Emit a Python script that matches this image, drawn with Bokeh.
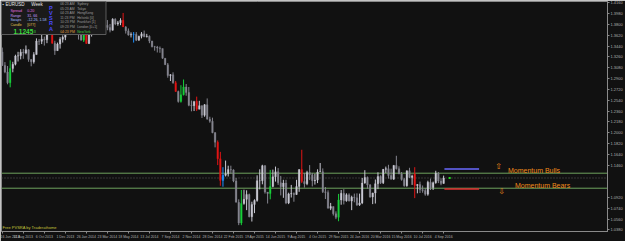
from bokeh.plotting import figure
from bokeh.models import (Range1d, FixedTicker, LinearAxis, Label, Span,
                          NumeralTickFormatter, ColumnDataSource)
from bokeh.core.properties import value
from bokeh.embed import file_html
from bokeh.resources import INLINE

# ---------------- data (EURUSD weekly) ----------------
weeks = list(range(169))
opens = [1.3345, 1.3120, 1.3010, 1.2830, 1.3070, 1.3140, 1.3275, 1.3280, 1.3340, 1.3325,
         1.3380, 1.3220, 1.3180, 1.3300, 1.3525, 1.3520, 1.3555, 1.3545, 1.3685, 1.3800,
         1.3490, 1.3365, 1.3475, 1.3555, 1.3590, 1.3705, 1.3740, 1.3675, 1.3690, 1.3670,
         1.3665, 1.3540, 1.3680, 1.3485, 1.3630, 1.3690, 1.3740, 1.3800, 1.3870, 1.3910,
         1.3790, 1.3750, 1.3705, 1.3890, 1.3810, 1.3830, 1.3870, 1.3760, 1.3695, 1.3625,
         1.3635, 1.3640, 1.3540, 1.3605, 1.3645, 1.3595, 1.3605, 1.3525, 1.3430, 1.3425,
         1.3410, 1.3400, 1.3240, 1.3130, 1.2950, 1.2965, 1.2830, 1.2685, 1.2520, 1.2630,
         1.2760, 1.2670, 1.2455, 1.2450, 1.2525, 1.2390, 1.2450, 1.2290, 1.2465, 1.2225,
         1.2190, 1.2000, 1.1840, 1.1565, 1.1205, 1.1290, 1.1315, 1.1385, 1.1380, 1.1195,
         1.0840, 1.0495, 1.0820, 1.0890, 1.0970, 1.0600, 1.0805, 1.0870, 1.1200, 1.1200,
         1.1450, 1.1010, 1.0985, 1.1105, 1.1265, 1.1350, 1.1165, 1.1100, 1.1160, 1.0830,
         1.0980, 1.0985, 1.0970, 1.1105, 1.1385, 1.1185, 1.1150, 1.1335, 1.1300, 1.1200,
         1.1210, 1.1345, 1.1350, 1.1015, 1.1005, 1.0740, 1.0770, 1.0650, 1.0590, 1.0880,
         1.0990, 1.0865, 1.0965, 1.0860, 1.0925, 1.0915, 1.0795, 1.0830, 1.1160, 1.1255,
         1.1130, 1.0930, 1.0995, 1.1150, 1.1270, 1.1165, 1.1390, 1.1400, 1.1285, 1.1225,
         1.1455, 1.1400, 1.1310, 1.1220, 1.1115, 1.1365, 1.1255, 1.1310, 1.1120, 1.1135,
         1.1050, 1.1035, 1.0975, 1.1175, 1.1085, 1.1165, 1.1325, 1.1195, 1.1155]
highs = [1.3417, 1.3175, 1.3110, 1.3205, 1.3180, 1.3298, 1.3346, 1.3390, 1.3395, 1.3452,
         1.3390, 1.3225, 1.3340, 1.3570, 1.3560, 1.3647, 1.3600, 1.3700, 1.3832, 1.3800,
         1.3530, 1.3500, 1.3590, 1.3620, 1.3700, 1.3810, 1.3810, 1.3750, 1.3893, 1.3685,
         1.3700, 1.3740, 1.3740, 1.3625, 1.3715, 1.3770, 1.3825, 1.3915, 1.3967, 1.3965,
         1.3875, 1.3810, 1.3905, 1.3905, 1.3860, 1.3905, 1.3993, 1.3775, 1.3735, 1.3670,
         1.3675, 1.3675, 1.3615, 1.3675, 1.3700, 1.3645, 1.3620, 1.3530, 1.3445, 1.3445,
         1.3435, 1.3400, 1.3240, 1.3160, 1.2975, 1.3005, 1.2860, 1.2700, 1.2790, 1.2885,
         1.2810, 1.2760, 1.2535, 1.2510, 1.2600, 1.2530, 1.2455, 1.2475, 1.2570, 1.2265,
         1.2250, 1.2010, 1.1870, 1.1680, 1.1425, 1.1535, 1.1450, 1.1450, 1.1390, 1.1245,
         1.0890, 1.1045, 1.1050, 1.1040, 1.0985, 1.0850, 1.0890, 1.1290, 1.1390, 1.1465,
         1.1460, 1.1010, 1.1380, 1.1385, 1.1435, 1.1410, 1.1280, 1.1215, 1.1215, 1.1000,
         1.1130, 1.1005, 1.1215, 1.1390, 1.1715, 1.1330, 1.1365, 1.1460, 1.1330, 1.1315,
         1.1390, 1.1495, 1.1405, 1.1095, 1.1040, 1.0830, 1.0770, 1.0690, 1.0980, 1.1045,
         1.1060, 1.0990, 1.0990, 1.0950, 1.0985, 1.0990, 1.0985, 1.1245, 1.1375, 1.1270,
         1.1145, 1.1000, 1.1220, 1.1340, 1.1290, 1.1395, 1.1435, 1.1465, 1.1400, 1.1460,
         1.1615, 1.1440, 1.1345, 1.1245, 1.1370, 1.1415, 1.1300, 1.1425, 1.1145, 1.1185,
         1.1120, 1.1075, 1.1200, 1.1235, 1.1185, 1.1365, 1.1345, 1.1240, 1.1285]
lows = [1.3110, 1.2990, 1.2805, 1.2755, 1.3005, 1.3120, 1.3185, 1.3220, 1.3230, 1.3305,
        1.3180, 1.3105, 1.3150, 1.3300, 1.3460, 1.3475, 1.3450, 1.3490, 1.3650, 1.3480,
        1.3295, 1.3365, 1.3400, 1.3500, 1.3540, 1.3700, 1.3625, 1.3650, 1.3660, 1.3550,
        1.3535, 1.3510, 1.3480, 1.3475, 1.3600, 1.3680, 1.3640, 1.3735, 1.3860, 1.3750,
        1.3705, 1.3670, 1.3700, 1.3790, 1.3780, 1.3790, 1.3760, 1.3650, 1.3615, 1.3585,
        1.3500, 1.3525, 1.3530, 1.3570, 1.3590, 1.3585, 1.3490, 1.3420, 1.3365, 1.3335,
        1.3330, 1.3230, 1.3130, 1.2915, 1.2860, 1.2815, 1.2680, 1.2500, 1.2500, 1.2620,
        1.2615, 1.2440, 1.2355, 1.2360, 1.2360, 1.2390, 1.2245, 1.2265, 1.2220, 1.2165,
        1.1990, 1.1755, 1.1460, 1.1115, 1.1100, 1.1270, 1.1270, 1.1315, 1.1175, 1.0840,
        1.0460, 1.0460, 1.0800, 1.0710, 1.0590, 1.0520, 1.0660, 1.0850, 1.1055, 1.1140,
        1.0985, 1.0820, 1.0890, 1.1090, 1.1185, 1.1130, 1.0955, 1.0915, 1.0810, 1.0810,
        1.0920, 1.0850, 1.0965, 1.1015, 1.1160, 1.1085, 1.1125, 1.1210, 1.1105, 1.1135,
        1.1160, 1.1345, 1.0995, 1.0895, 1.0740, 1.0710, 1.0620, 1.0560, 1.0525, 1.0800,
        1.0805, 1.0850, 1.0855, 1.0710, 1.0840, 1.0780, 1.0780, 1.0810, 1.1150, 1.1065,
        1.0915, 1.0810, 1.0820, 1.1060, 1.1145, 1.1145, 1.1330, 1.1235, 1.1220, 1.1215,
        1.1385, 1.1310, 1.1200, 1.1100, 1.1100, 1.1245, 1.1130, 1.0910, 1.0990, 1.0995,
        1.1000, 1.0950, 1.0950, 1.1045, 1.1045, 1.1150, 1.1160, 1.1125, 1.1150]
closes = [1.3120, 1.3010, 1.2830, 1.3070, 1.3140, 1.3275, 1.3280, 1.3340, 1.3325, 1.3380,
          1.3220, 1.3180, 1.3300, 1.3525, 1.3520, 1.3555, 1.3545, 1.3685, 1.3800, 1.3490,
          1.3365, 1.3475, 1.3555, 1.3590, 1.3705, 1.3740, 1.3675, 1.3690, 1.3670, 1.3665,
          1.3540, 1.3680, 1.3485, 1.3630, 1.3690, 1.3740, 1.3800, 1.3870, 1.3910, 1.3790,
          1.3750, 1.3705, 1.3890, 1.3810, 1.3830, 1.3870, 1.3760, 1.3695, 1.3625, 1.3635,
          1.3640, 1.3540, 1.3605, 1.3645, 1.3595, 1.3605, 1.3525, 1.3430, 1.3425, 1.3410,
          1.3400, 1.3240, 1.3130, 1.2950, 1.2965, 1.2830, 1.2685, 1.2520, 1.2630, 1.2760,
          1.2670, 1.2455, 1.2450, 1.2525, 1.2390, 1.2450, 1.2290, 1.2465, 1.2225, 1.2190,
          1.2000, 1.1840, 1.1565, 1.1205, 1.1290, 1.1315, 1.1385, 1.1380, 1.1195, 1.0840,
          1.0495, 1.0820, 1.0890, 1.0970, 1.0600, 1.0805, 1.0870, 1.1200, 1.1200, 1.1450,
          1.1010, 1.0985, 1.1105, 1.1265, 1.1350, 1.1165, 1.1100, 1.1160, 1.0830, 1.0980,
          1.0985, 1.0970, 1.1105, 1.1385, 1.1185, 1.1150, 1.1335, 1.1300, 1.1200, 1.1210,
          1.1345, 1.1350, 1.1015, 1.1005, 1.0740, 1.0770, 1.0650, 1.0590, 1.0880, 1.0990,
          1.0865, 1.0965, 1.0860, 1.0925, 1.0915, 1.0795, 1.0830, 1.1160, 1.1255, 1.1130,
          1.0930, 1.0995, 1.1150, 1.1270, 1.1165, 1.1390, 1.1400, 1.1285, 1.1225, 1.1455,
          1.1400, 1.1310, 1.1220, 1.1115, 1.1365, 1.1255, 1.1280, 1.1120, 1.1135, 1.1050,
          1.1035, 1.0975, 1.1175, 1.1085, 1.1165, 1.1325, 1.1195, 1.1155, 1.1245]

green_climax = [3, 31, 68, 69, 91, 102, 128]
red_climax = [19, 32, 46, 66, 74, 82, 83, 114, 157]
blue_climax = [50, 84]

date_ticks = [0, 8, 16, 24, 32, 40, 48, 56, 64, 72, 80, 88, 96, 104, 112, 120,
              128, 136, 144, 152, 160, 168]
date_labels = ["16 Jun 2013", "11 Aug 2013", "6 Oct 2013", "1 Dec 2013", "26 Jan 2014",
               "23 Mar 2014", "18 May 2014", "13 Jul 2014", "7 Sep 2014", "2 Nov 2014",
               "28 Dec 2014", "22 Feb 2015", "19 Apr 2015", "14 Jun 2015", "9 Aug 2015",
               "4 Oct 2015", "29 Nov 2015", "24 Jan 2016", "20 Mar 2016", "15 May 2016",
               "10 Jul 2016", "4 Sep 2016"]
price_ticks = [1.0380, 1.0560, 1.0740, 1.0920, 1.1460, 1.1640, 1.1820, 1.2000, 1.2180,
               1.2360, 1.2540, 1.2720, 1.2900, 1.3080, 1.3260, 1.3440, 1.3620, 1.3800,
               1.3980, 1.4160]

bid_price = 1.1245
bulls_level = 1.1325
bears_level = 1.1075
mom_bull_level = 1.1396
mom_bear_level = 1.1063
mom_start, mom_end = 168.3, 181.5

# ---------------- layout mapping helpers ----------------
PX0, PXW = 1.8, 2.64          # pixel column of week 0, pixels per week
PY_REF, PPX = 177.5, 0.0016651  # pixel row of bid price, price per pixel


def wx(px):
    return (px - PX0) / PXW


def pyv(py):
    return bid_price + (PY_REF - py) * PPX


BG = "#111111"
BULL, BEAR = "#c9c9d3", "#85858f"
GREEN, RED, BLUE = "#18d03a", "#e01515", "#1e90ff"
AXC, LBC = "#8a8a8a", "#b0b0b0"
FONT = "Liberation Sans"

p = figure(width=625, height=241, output_backend="svg", toolbar_location=None,
           x_range=Range1d(wx(1), wx(610)), y_range=Range1d(pyv(231), pyv(1)),
           x_axis_location=None, y_axis_location=None,
           min_border_left=1, min_border_top=1, min_border_right=0, min_border_bottom=0,
           background_fill_color=BG, border_fill_color=BG,
           outline_line_color=AXC, outline_line_width=1)
p.grid.visible = False

# horizontal level lines
for lvl in (bulls_level, bears_level):
    p.add_layout(Span(location=lvl, dimension="width", line_color="#6ea35e",
                      line_width=1, level="underlay"))
p.add_layout(Span(location=bid_price, dimension="width", line_color="#5e5e5e",
                  line_width=1, line_dash="1 2", level="underlay"))

# candles
colors = []
for i, (o, c) in enumerate(zip(opens, closes)):
    if i in green_climax:
        colors.append(GREEN)
    elif i in red_climax:
        colors.append(RED)
    elif i in blue_climax:
        colors.append(BLUE)
    else:
        colors.append(BULL if c >= o else BEAR)
src = ColumnDataSource(dict(x=weeks, high=highs, low=lows,
                            top=[max(o, c) for o, c in zip(opens, closes)],
                            bottom=[min(o, c) for o, c in zip(opens, closes)],
                            color=colors))
p.segment(x0="x", y0="low", x1="x", y1="high", line_color="color", line_width=1, source=src)
p.vbar(x="x", width=0.62, top="top", bottom="bottom", fill_color="color",
       line_color="color", line_width=0.3, source=src)

# momentum lines
p.segment(x0=[mom_start], y0=[mom_bull_level], x1=[mom_end], y1=[mom_bull_level],
          line_color="#6a6aff", line_width=1.6)
p.segment(x0=[mom_start], y0=[mom_bear_level], x1=[mom_end], y1=[mom_bear_level],
          line_color="#e03030", line_width=1.6)
p.scatter(x=[170.3], y=[bid_price], marker="square", size=2, fill_color="#20e020",
          line_color=None)

ORANGE = "#f08a1a"
p.text(x=[wx(510)], y=[pyv(169.5)], text=["Momentum Bulls"], text_color=ORANGE,
       text_font=value(FONT), text_font_size=value("7px"), text_baseline="middle")
p.text(x=[wx(517)], y=[pyv(185)], text=["Momentum Bears"], text_color=ORANGE,
       text_font=value(FONT), text_font_size=value("7px"), text_baseline="middle")
p.text(x=[wx(500.5)], y=[pyv(166)], text=["\u21e7"], text_color=ORANGE,
       text_font=value("DejaVu Sans"), text_font_size=value("8px"),
       text_baseline="middle", text_align="center")
p.text(x=[wx(503.5)], y=[pyv(191)], text=["\u21e9"], text_color=ORANGE,
       text_font=value("DejaVu Sans"), text_font_size=value("8px"),
       text_baseline="middle", text_align="center")

p.text(x=[wx(2)], y=[pyv(227.3)], text=["Free PVSRA by Traderathome"], text_color="#c4c43a",
       text_font=value(FONT), text_font_size=value("4px"), text_baseline="middle")

# info panel
p.quad(left=[wx(1)], right=[wx(106)], top=[pyv(1)], bottom=[pyv(34)],
       fill_color="#1a1a1a", line_color="#5c5c5c", line_width=1)

panel = [
    (2.0, 4.3, "\u25aa", "#e8e8e8", "4px", "normal"),
    (5.0, 4.3, "EURUSD", "#e8e8e8", "4.5px", "normal"),
    (31.0, 4.3, "Week", "#e8e8e8", "4.5px", "normal"),
    (10.0, 10.3, "Spread", "#e070e0", "3.6px", "normal"),
    (10.0, 15.0, "Range", "#c89cff", "3.6px", "normal"),
    (10.0, 19.6, "Swaps", "#a6c0ff", "3.6px", "normal"),
    (10.0, 24.2, "Candle", "#e0c050", "3.6px", "normal"),
    (27.0, 10.3, "0.20", "#e070e0", "3.6px", "normal"),
    (27.0, 15.0, "31, 66", "#c89cff", "3.6px", "normal"),
    (27.0, 19.6, "-12.26, 1.58", "#a6c0ff", "3.6px", "normal"),
    (27.0, 24.2, "[077]", "#e0c050", "3.6px", "normal"),
    (13.0, 30.6, "1.1245", "#3cdc3c", "6.5px", "bold"),
    (33.5, 31.3, "3", "#3cdc3c", "3.6px", "normal"),
]
for k, ch in enumerate(["P", "V", "S", "R", "A"]):
    panel.append((48.8, 7.0 + 5.3 * k, ch, "#4a4aff", "5.5px", "bold"))
rows = [("06:23 AM", "Sydney"), ("05:23 AM", "Tokyo"), ("04:23 AM", "HongKong"),
        ("11:23 PM", "Helsinki [0]"), ("10:23 PM", "Frankfurt [1]"),
        ("09:23 PM", "London [0+1]"), ("04:23 PM", "NewYork")]
for k, (t, city) in enumerate(rows):
    last = k == len(rows) - 1
    yy = 3.4 + 4.6 * k
    panel.append((60.0, yy, t, "#e0a040" if last else "#9a9a9a", "3.4px", "normal"))
    panel.append((77.0, yy, city, "#40d040" if last else "#9a9a9a", "3.4px", "normal"))

psrc = ColumnDataSource(dict(x=[wx(a[0]) for a in panel], y=[pyv(a[1]) for a in panel],
                             text=[a[2] for a in panel], color=[a[3] for a in panel],
                             size=[a[4] for a in panel], style=[a[5] for a in panel]))
p.text(x="x", y="y", text="text", text_color="color", text_font_size="size",
       text_font_style="style", text_font=value(FONT), text_baseline="middle", source=psrc)

# axes
xa = LinearAxis(ticker=FixedTicker(ticks=date_ticks, minor_ticks=[]),
                major_label_overrides={t: s for t, s in zip(date_ticks, date_labels)})
ya = LinearAxis(ticker=FixedTicker(ticks=price_ticks, minor_ticks=[]),
                formatter=NumeralTickFormatter(format="0.0000"))
for ax in (xa, ya):
    ax.axis_line_color = AXC
    ax.major_tick_line_color = AXC
    ax.major_tick_out = 2
    ax.major_tick_in = 0
    ax.minor_tick_out = 0
    ax.major_label_standoff = 1
    ax.major_label_text_color = LBC
    ax.major_label_text_font = FONT
    ax.major_label_text_font_size = "4px"
xa.major_label_text_font_size = "3.5px"
xa.major_label_text_align = "left"
p.add_layout(xa, "below")
p.add_layout(ya, "right")

# price boxes on the price scale
for lvl, bg, fg in ((bulls_level, "#8fdc8f", "#0a0a0a"), (bid_price, "#7a7a7a", "#f0f0f0"),
                    (bears_level, "#8fdc8f", "#0a0a0a")):
    p.add_layout(Label(x=wx(612.5), y=lvl, text="%.4f" % lvl, text_font=FONT,
                       text_font_size="4px", text_color=fg, text_baseline="middle",
                       text_align="left", background_fill_color=bg))

open("out.html", "w").write(file_html(p, INLINE))
